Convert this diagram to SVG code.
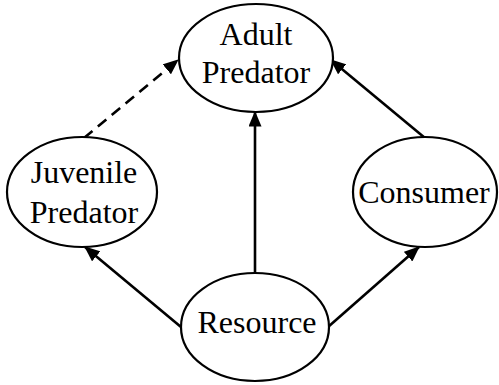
<svg xmlns="http://www.w3.org/2000/svg" width="499" height="385" viewBox="0 0 499 385">
<style>
.node{fill:#fff;stroke:#000;stroke-width:2.2}
.lbl{font-family:"Liberation Serif","Times New Roman",serif;font-size:32px;fill:#000;text-anchor:middle}
.edge{stroke:#000;stroke-width:2.6;fill:none}
.dash{stroke-dasharray:11,7}
</style>
<defs>
<marker id="ah" markerWidth="6" markerHeight="5" refX="5.6" refY="2.5" orient="auto" markerUnits="strokeWidth">
<path d="M0,0 L6,2.5 L0,5 Z" fill="#000"/>
</marker>
</defs>
<rect width="499" height="385" fill="#fff"/>
<g id="connectors">
<line class="edge dash" x1="84" y1="138" x2="178" y2="60" marker-end="url(#ah)"/>
<line class="edge" x1="425" y1="138" x2="331" y2="60" marker-end="url(#ah)"/>
<line class="edge" x1="255" y1="273" x2="255" y2="112" marker-end="url(#ah)"/>
<line class="edge" x1="181" y1="327" x2="85" y2="247" marker-end="url(#ah)"/>
<line class="edge" x1="328" y1="327" x2="419" y2="247" marker-end="url(#ah)"/>
</g>
<g id="adult">
<ellipse class="node" cx="256" cy="58" rx="77" ry="54"/>
<text class="lbl" x="256" y="45">Adult</text>
<text class="lbl" x="256" y="83">Predator</text>
</g>
<g id="juvenile">
<ellipse class="node" cx="82" cy="192" rx="75" ry="55"/>
<text class="lbl" x="84" y="183">Juvenile</text>
<text class="lbl" x="84" y="223">Predator</text>
</g>
<g id="consumer">
<ellipse class="node" cx="425" cy="192" rx="72" ry="55"/>
<text class="lbl" x="424" y="203">Consumer</text>
</g>
<g id="resource">
<ellipse class="node" cx="255" cy="327" rx="74" ry="54"/>
<text class="lbl" x="257" y="333">Resource</text>
</g>
</svg>
